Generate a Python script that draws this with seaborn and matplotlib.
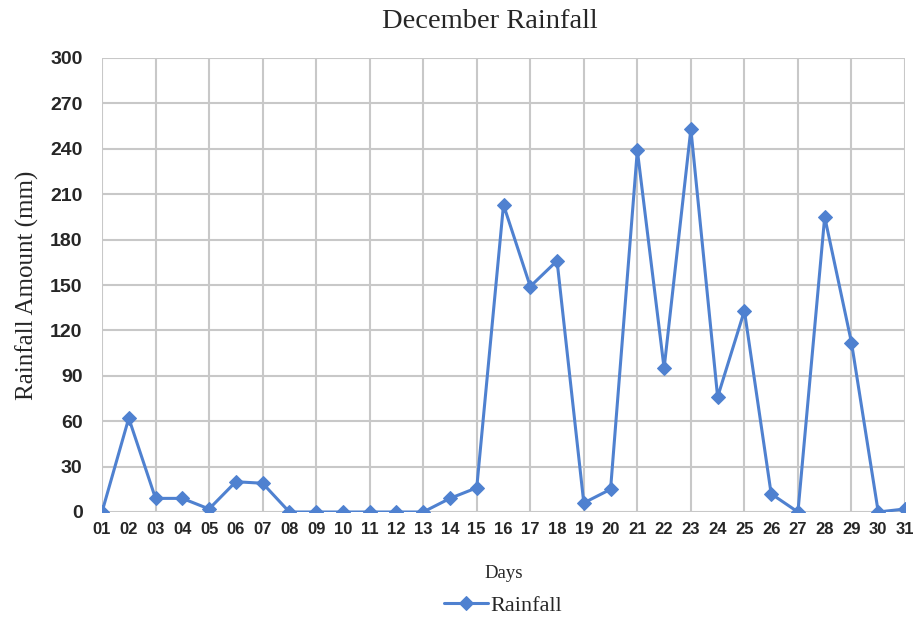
import matplotlib
matplotlib.use("Agg")
import matplotlib.pyplot as plt
import seaborn as sns
import pandas as pd

days = list(range(1, 32))
day_labels = [f"{d:02d}" for d in days]
rainfall = [0, 62, 9, 9, 2, 20, 19, 0, 0, 0, 0, 0, 0, 9, 16,
            203, 149, 166, 6, 15, 239, 95, 253, 76, 133, 12, 0, 195, 112, 0, 2]
y_ticks = list(range(0, 301, 30))

df = pd.DataFrame({"Day": days, "Rainfall": rainfall})

sns.set_theme(style="white")
serif = ["Liberation Serif", "DejaVu Serif"]
tickfont = ["Liberation Sans Narrow", "Liberation Sans", "DejaVu Sans"]

fig = plt.figure(figsize=(9.19, 6.19), dpi=100)
ax = fig.add_axes([102 / 919, 1 - 512 / 619, (905 - 102) / 919, (512 - 58) / 619])

color = "#4F81D0"
sns.lineplot(data=df, x="Day", y="Rainfall", ax=ax, color=color, linewidth=2.2,
             marker="D", markersize=7, markeredgecolor=color, label="Rainfall",
             zorder=3)

ax.set_xlim(1, 31)
ax.set_ylim(0, 300)
ax.set_yticks(y_ticks)
ax.set_xticks(days)
ax.set_xticklabels(day_labels)
ax.xaxis.remove_overlapping_locs = False
ax.set_xticks(days[::2], minor=True)

for s in ax.spines.values():
    s.set_visible(False)
ax.grid(False)
ax.grid(True, axis="y", which="major", color="#C8C8C8", linewidth=1.5, zorder=0)
ax.grid(True, axis="x", which="minor", color="#C8C8C8", linewidth=1.5, zorder=0)
ax.tick_params(axis="both", which="both", length=0)
ax.tick_params(axis="x", pad=7)
ax.tick_params(axis="y", pad=14)

for lab in ax.get_xticklabels():
    lab.set_family(tickfont)
    lab.set_fontweight("bold")
    lab.set_fontsize(12)
for lab in ax.get_yticklabels():
    lab.set_family(tickfont)
    lab.set_fontweight("bold")
    lab.set_fontsize(14)

fig.text(490 / 919, 1 - 21 / 619, "December Rainfall", family=serif, fontsize=20.5,
         ha="center", va="center")
ax.set_xlabel("Days", family=serif, fontsize=13.5, labelpad=20)
ax.set_ylabel("Rainfall Amount (mm)", family=serif, fontsize=18, labelpad=8)

ax.get_legend().remove()
fig.legend(*ax.get_legend_handles_labels(), loc="center",
           bbox_to_anchor=(503 / 919, 1 - 606 / 619), frameon=False,
           prop={"family": serif, "size": 16}, handlelength=2.0,
           handletextpad=0.1, borderpad=0)

fig.savefig("out.png", dpi=100)
